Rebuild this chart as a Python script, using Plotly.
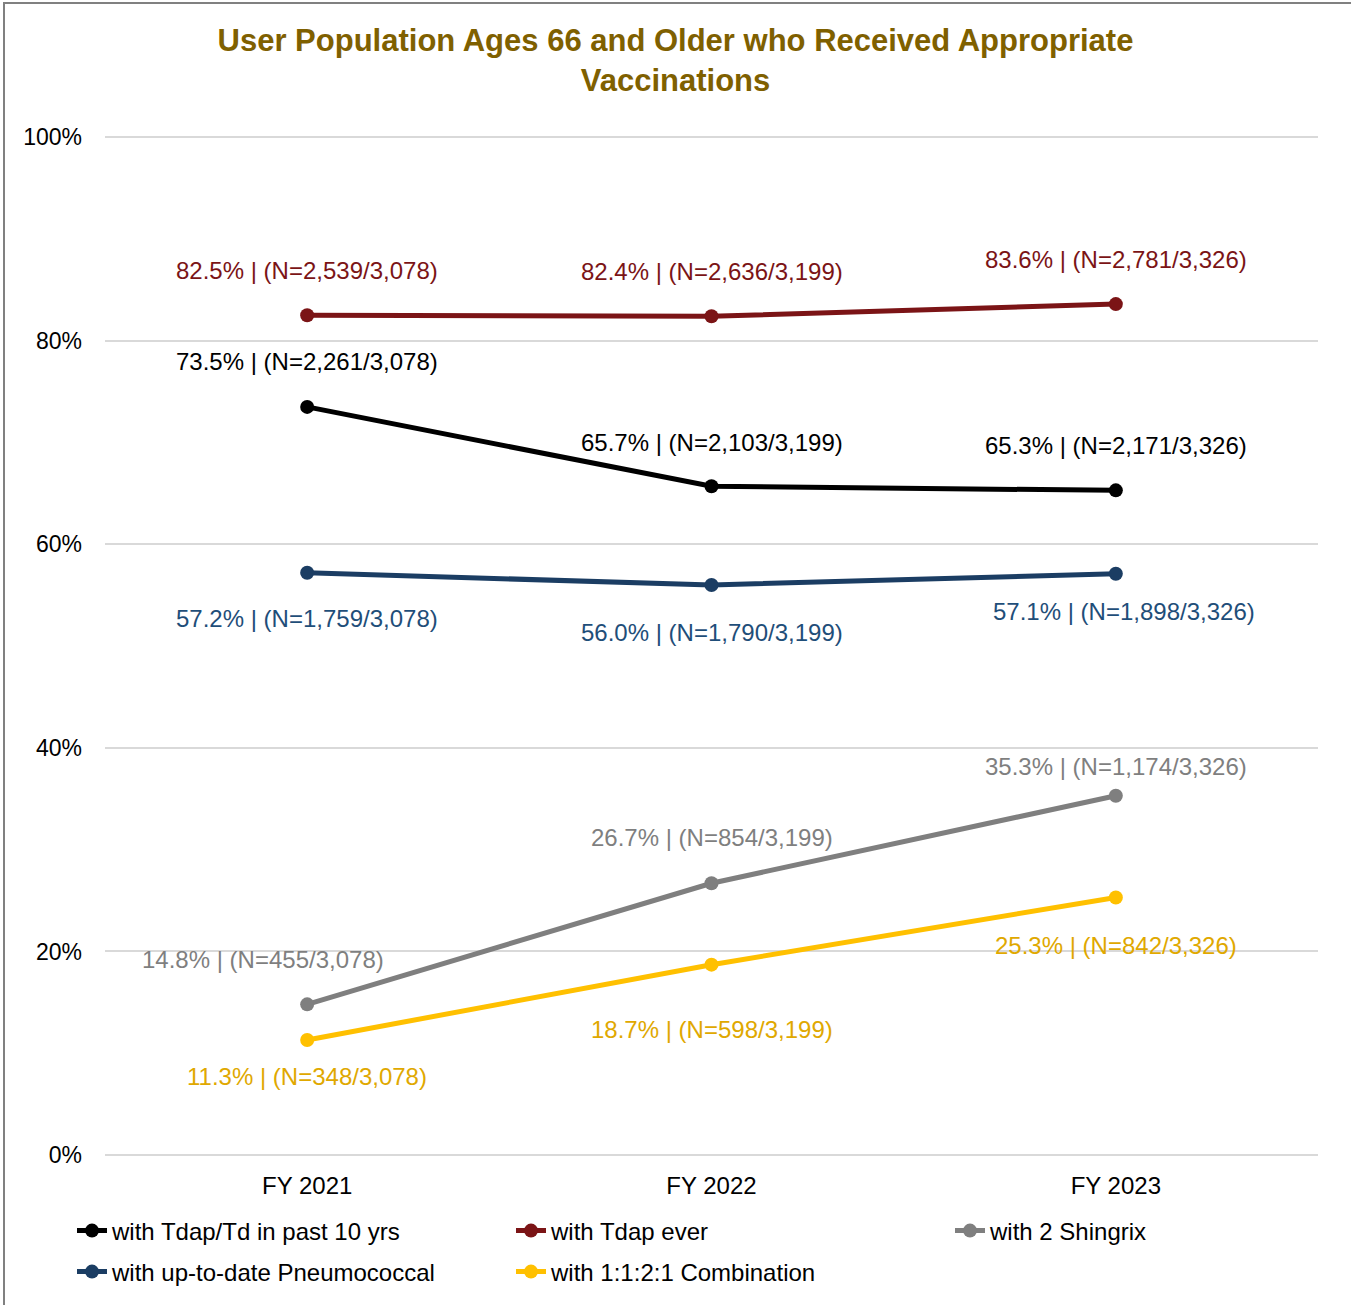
import plotly.graph_objects as go

years = ["FY 2021", "FY 2022", "FY 2023"]
denominators = [3078, 3199, 3326]

series_names = [
    "with Tdap/Td in past 10 yrs",
    "with Tdap ever",
    "with 2 Shingrix",
    "with up-to-date Pneumococcal",
    "with 1:1:2:1 Combination",
]
tdap_td_pct = [73.5, 65.7, 65.3]
tdap_td_n = [2261, 2103, 2171]
tdap_ever_pct = [82.5, 82.4, 83.6]
tdap_ever_n = [2539, 2636, 2781]
shingrix_pct = [14.8, 26.7, 35.3]
shingrix_n = [455, 854, 1174]
pneumo_pct = [57.2, 56.0, 57.1]
pneumo_n = [1759, 1790, 1898]
combo_pct = [11.3, 18.7, 25.3]
combo_n = [348, 598, 842]
y_ticks = [0, 20, 40, 60, 80, 100]

# styling per series: line colour, label colour, label offsets (dx, dy in px),
# legend text position (x, y in page px)
styles = [
    ("#000000", "#000000", [(0, -45), (0, -44), (0, -45)], (112, 1231)),
    ("#7B1416", "#7B1416", [(0, -45), (0, -45), (0, -45)], (551, 1231)),
    ("#7F7F7F", "#7F7F7F", [(-44, -45), (0, -46), (0, -29)], (990, 1231)),
    ("#1B3D63", "#1F4E79", [(0, 46), (0, 47), (8, 38)], (112, 1272)),
    ("#FFC000", "#E0A800", [(0, 37), (0, 65), (0, 48)], (551, 1272)),
]
values = [tdap_td_pct, tdap_ever_pct, shingrix_pct, pneumo_pct, combo_pct]
counts = [tdap_td_n, tdap_ever_n, shingrix_n, pneumo_n, combo_n]

# plot area in page pixels
L, R, T, B = 105, 1318, 127, 1156
W, H = R - L, B - T

font = "Liberation Sans, Arial, sans-serif"
fig = go.Figure()
annotations = []
legends = {}
for i, (name, vals, ns, (lc, tc, offs, (lx, ly))) in enumerate(
        zip(series_names, values, counts, styles)):
    leg = "legend" if i == 0 else f"legend{i + 1}"
    fig.add_trace(go.Scatter(x=years, y=vals, name=name, mode="lines+markers",
                             line=dict(color=lc, width=5),
                             marker=dict(color=lc, size=14), legend=leg))
    legends[leg] = dict(orientation="h", xanchor="left", yanchor="middle",
                        x=(lx - 40 - L) / W, y=(B - ly) / H,
                        font=dict(size=24, color="#000000", family=font),
                        bgcolor="rgba(0,0,0,0)")
    for yr, v, n, d, (dx, dy) in zip(years, vals, ns, denominators, offs):
        annotations.append(dict(x=yr, y=v, xref="x", yref="y", showarrow=False,
                                text=f"{v:.1f}% | (N={n:,}/{d:,})",
                                xshift=dx, yshift=-dy,
                                font=dict(size=24, color=tc, family=font)))

# outer border of the chart area
shapes = [dict(type="rect", xref="paper", yref="paper",
               x0=(4 - L) / W, x1=1.2, y0=-0.3, y1=(B - 3) / H,
               line=dict(color="#808080", width=2), fillcolor="rgba(0,0,0,0)")]

fig.update_layout(
    width=1351, height=1305,
    margin=dict(l=L, r=1351 - R, t=T, b=1305 - B),
    paper_bgcolor="white", plot_bgcolor="white",
    font=dict(family=font, size=24, color="#000000"),
    title=dict(text="<b>User Population Ages 66 and Older who Received Appropriate<br>Vaccinations</b>",
               x=0.5, xanchor="center", y=1 - 51 / 1305, yanchor="middle",
               font=dict(size=31, color="#7F6000", family=font)),
    showlegend=True,
    annotations=annotations,
    shapes=shapes,
    **legends,
)
fig.update_xaxes(type="category", range=[-0.5, 2.5], showgrid=False, showline=False,
                 ticks="", ticklabelstandoff=14, tickfont=dict(size=24))
fig.update_yaxes(range=[0, 101], tickvals=y_ticks, ticktext=[f"{t}%" for t in y_ticks],
                 showgrid=True, gridcolor="#D9D9D9", gridwidth=2, zeroline=True,
                 zerolinecolor="#D9D9D9", zerolinewidth=2, showline=False, ticks="",
                 ticklabelstandoff=22, tickfont=dict(size=23))

fig.write_html("out.html", config={"displayModeBar": False},
               post_script="document.body.style.margin='0';")
